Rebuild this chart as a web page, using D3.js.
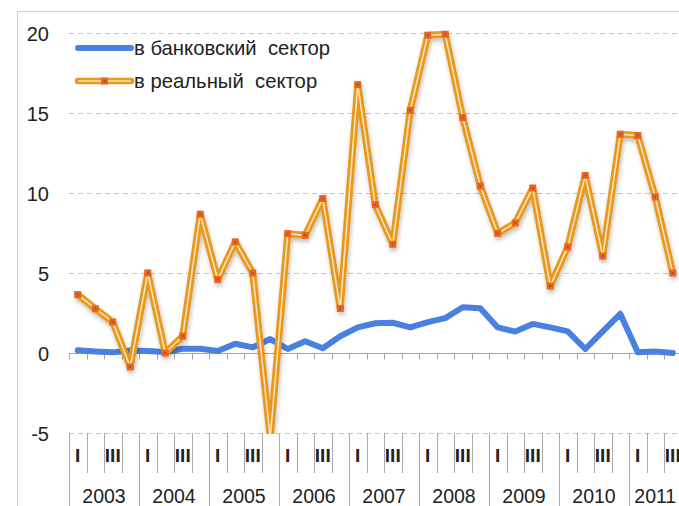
<!DOCTYPE html>
<html>
<head>
<meta charset="utf-8">
<script src="https://cdn.jsdelivr.net/npm/d3@7"></script>
<style>
  body { margin: 0; background: #fff; }
  svg { display: block; font-family: "Liberation Sans", Arial, sans-serif; }
</style>
</head>
<body>
<svg id="chart" width="679" height="506"></svg>
<script>
// ---- data ----
const years = ["2003","2004","2005","2006","2007","2008","2009","2010","2011"];
const quartersPerYear = [4,4,4,4,4,4,4,4,3];
const quarterNames = ["I","II","III","IV"];
const quarterShown = ["I","","III",""];
const seriesNames = ["в банковский  сектор", "в реальный  сектор"];
const banking = [0.17,0.1,0.04,0.15, 0.12,0.06,0.27,0.27, 0.12,0.58,0.35,0.87,
                 0.25,0.73,0.3,1.05, 1.6,1.86,1.89,1.6, 1.93,2.18,2.86,2.8,
                 1.6,1.34,1.82,1.6, 1.35,0.25,1.35,2.45, 0.04,0.1,0.0];
const real = [3.65,2.77,1.94,-0.87, 5.0,0.0,1.06,8.67, 4.59,6.94,5.0,-5.3,
              7.46,7.36,9.65,2.78, 16.77,9.27,6.8,15.17, 19.86,19.92,14.71,10.44,
              7.48,8.13,10.31,4.19, 6.63,11.1,6.06,13.67, 13.6,9.75,5.0];
const yTicks = [-5,0,5,10,15,20];

// categories built from years/quarters
const categories = [];
years.forEach((y, yi) => {
  for (let q = 0; q < quartersPerYear[yi]; q++) categories.push({id: y + "-" + quarterNames[q], year: y, q});
});

const svg = d3.select("#chart");
const X0 = 69, X1 = 681.5, YTOP = 33, YBOT = 433;

const x = d3.scaleBand().domain(categories.map(c => c.id)).range([X0, X1]).padding(0);
const y = d3.scaleLinear().domain([-5, 20]).range([YBOT, YTOP]);

// defs
const defs = svg.append("defs");
defs.append("clipPath").attr("id", "plotclip")
  .append("rect").attr("x", X0 - 10).attr("y", 0).attr("width", X1 - X0 + 20).attr("height", YBOT + 1);
const f = defs.append("filter").attr("id", "shadow").attr("x", "-20%").attr("y", "-20%").attr("width", "140%").attr("height", "140%");
f.append("feDropShadow").attr("dx", 1).attr("dy", 3).attr("stdDeviation", 2)
  .attr("flood-color", "#000").attr("flood-opacity", 0.25);

// frame
svg.append("path").attr("d", `M17.5,${506} V11.5 H679`).attr("fill", "none").attr("stroke", "#cfcfcf").attr("stroke-width", 1);

// gridlines (dashed)
svg.append("g").selectAll("line").data(yTicks.filter(t => t !== 0)).join("line")
  .attr("x1", X0).attr("x2", X1)
  .attr("y1", d => Math.round(y(d)) + 0.5).attr("y2", d => Math.round(y(d)) + 0.5)
  .attr("stroke", "#c4c4c4").attr("stroke-width", 1).attr("stroke-dasharray", "5,4");

// y-axis labels (hyphen minus as in the reference)
const fmt = d3.formatLocale({decimal: ".", thousands: "", grouping: [3], currency: ["", ""], minus: "-"}).format("d");
const yAxis = d3.axisLeft(y).tickValues(yTicks).tickSize(0).tickPadding(0).tickFormat(fmt);
const gy = svg.append("g").attr("transform", "translate(49,0)").call(yAxis);
gy.select(".domain").remove();
gy.selectAll("text").attr("font-size", 20).attr("fill", "#222").attr("font-family", "Liberation Sans, Arial, sans-serif").attr("dy", "0.35em");

// zero axis with ticks at quarter boundaries
const zeroY = Math.round(y(0)) + 0.5;
svg.append("line").attr("x1", X0).attr("x2", X1).attr("y1", zeroY).attr("y2", zeroY)
  .attr("stroke", "#a6a6a6").attr("stroke-width", 1.2);
const boundaries = categories.map(c => x(c.id)).concat([X1]);
svg.append("g").selectAll("line").data(boundaries).join("line")
  .attr("x1", d => Math.round(d) + 0.5).attr("x2", d => Math.round(d) + 0.5)
  .attr("y1", zeroY).attr("y2", zeroY + 6)
  .attr("stroke", "#a6a6a6").attr("stroke-width", 1);

// bottom hierarchical category axis
const gb = svg.append("g");
categories.forEach((c, i) => {
  const bx = Math.round(x(c.id)) + 0.5;
  gb.append("line").attr("x1", bx).attr("x2", bx)
    .attr("y1", YBOT).attr("y2", c.q === 0 ? 506 : 473)
    .attr("stroke", "#a8a8a8").attr("stroke-width", 1);
  const lbl = quarterShown[c.q];
  if (lbl) {
    gb.append("text").attr("x", x(c.id) + x.bandwidth() / 2).attr("y", 462)
      .attr("text-anchor", "middle").attr("font-size", 19).attr("font-weight", "bold")
      .attr("fill", "#222").text(lbl);
  }
});
years.forEach((yr) => {
  const cs = categories.filter(c => c.year === yr);
  const a = x(cs[0].id), b = x(cs[cs.length - 1].id) + x.bandwidth();
  gb.append("text").attr("x", (a + b) / 2).attr("y", 502.5)
    .attr("text-anchor", "middle").attr("font-size", 19.5).attr("fill", "#222").text(yr);
});

// lines
const cx = i => x(categories[i].id) + x.bandwidth() / 2;
const lineGen = d3.line().x((d, i) => cx(i)).y(d => y(d));
const plot = svg.append("g").attr("clip-path", "url(#plotclip)");

plot.append("path").datum(banking).attr("d", lineGen)
  .attr("fill", "none").attr("stroke", "#4a80e2").attr("stroke-width", 6)
  .attr("stroke-linejoin", "round").attr("stroke-linecap", "round");

const og = plot.append("g").attr("filter", "url(#shadow)");
og.append("path").datum(real).attr("d", lineGen)
  .attr("fill", "none").attr("stroke", "#e8981e").attr("stroke-width", 7)
  .attr("stroke-linejoin", "round");
og.append("path").datum(real).attr("d", lineGen)
  .attr("fill", "none").attr("stroke", "#fde6bd").attr("stroke-width", 1.5)
  .attr("stroke-linejoin", "round");
og.selectAll("rect.mk").data(real).join("rect").attr("class", "mk")
  .attr("x", (d, i) => cx(i) - 3.5).attr("y", d => y(d) - 3.5)
  .attr("width", 7).attr("height", 7).attr("fill", "#e8661e");
og.selectAll("rect.dot").data(real).join("rect").attr("class", "dot")
  .attr("x", (d, i) => cx(i) - 1).attr("y", d => y(d) - 1)
  .attr("width", 2).attr("height", 2).attr("fill", "#b5483a");

// legend
const lg = svg.append("g");
lg.append("line").attr("x1", 78).attr("x2", 131).attr("y1", 48).attr("y2", 48)
  .attr("stroke", "#4a80e2").attr("stroke-width", 6).attr("stroke-linecap", "round");
lg.append("text").attr("x", 134).attr("y", 48).attr("dy", "0.35em").attr("font-size", 20.3)
  .attr("fill", "#222").style("white-space", "pre").text(seriesNames[0]);
lg.append("line").attr("x1", 78).attr("x2", 131).attr("y1", 81).attr("y2", 81)
  .attr("stroke", "#e8981e").attr("stroke-width", 6.5).attr("stroke-linecap", "round");
lg.append("line").attr("x1", 78).attr("x2", 131).attr("y1", 81).attr("y2", 81)
  .attr("stroke", "#fde6bd").attr("stroke-width", 1.5);
lg.append("rect").attr("x", 101).attr("y", 77.5).attr("width", 7).attr("height", 7).attr("fill", "#e8661e");
lg.append("rect").attr("x", 103.5).attr("y", 80).attr("width", 2).attr("height", 2).attr("fill", "#b5483a");
lg.append("text").attr("x", 134).attr("y", 81).attr("dy", "0.35em").attr("font-size", 20.3)
  .attr("fill", "#222").style("white-space", "pre").text(seriesNames[1]);
</script>
</body>
</html>
